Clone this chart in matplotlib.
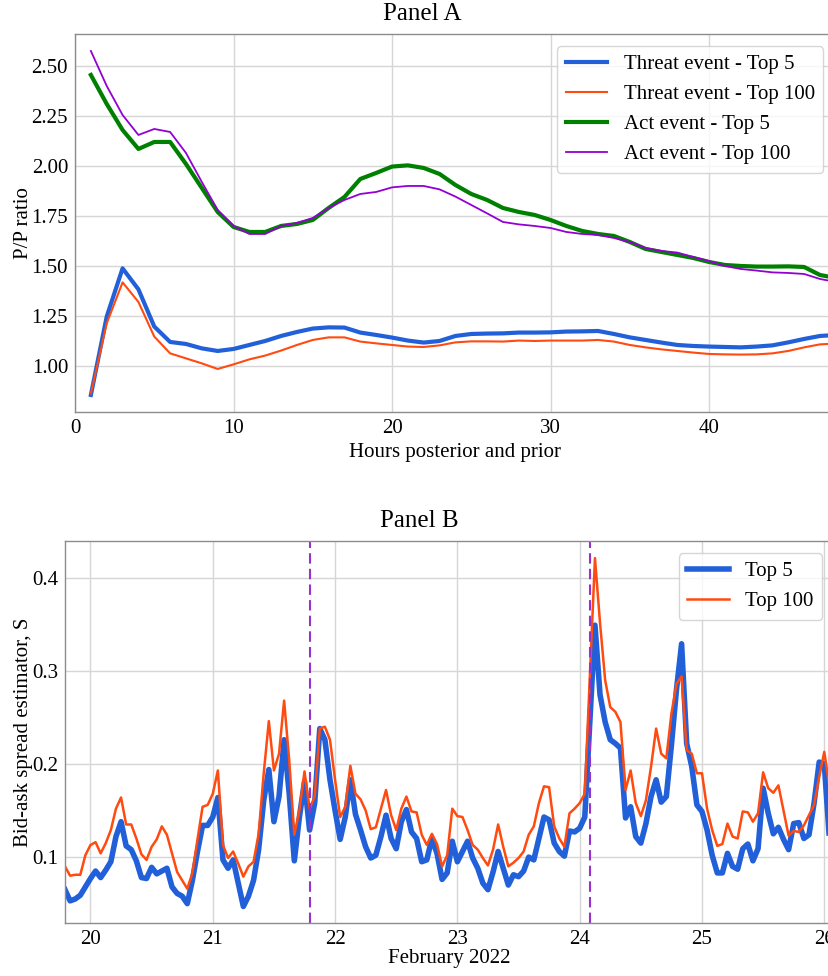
import numpy as np
import pandas as pd
import matplotlib
matplotlib.use('Agg')
import matplotlib.pyplot as plt
import matplotlib.dates as mdates

plt.rcParams['font.family'] = ['Liberation Serif', 'DejaVu Serif']
plt.rcParams['font.size'] = 15

# ---------------- Panel A data: P/P ratio by hour ----------------
hours = np.arange(1, 49)
threat_top5 = [0.855, 1.247, 1.488, 1.383, 1.197, 1.120, 1.110, 1.088, 1.075, 1.085,
               1.105, 1.125, 1.150, 1.170, 1.187, 1.193, 1.192, 1.167, 1.155, 1.142,
               1.127, 1.117, 1.125, 1.150, 1.160, 1.162, 1.163, 1.167, 1.167, 1.168,
               1.172, 1.173, 1.175, 1.160, 1.143, 1.130, 1.117, 1.105, 1.100, 1.097,
               1.095, 1.093, 1.097, 1.103, 1.118, 1.135, 1.150, 1.155]
threat_top100 = [0.862, 1.213, 1.418, 1.320, 1.147, 1.063, 1.038, 1.013, 0.985, 1.008,
                 1.033, 1.052, 1.077, 1.105, 1.130, 1.143, 1.143, 1.122, 1.113, 1.105,
                 1.097, 1.095, 1.103, 1.118, 1.123, 1.123, 1.122, 1.127, 1.125, 1.127,
                 1.127, 1.127, 1.130, 1.122, 1.105, 1.093, 1.083, 1.075, 1.067, 1.060,
                 1.058, 1.057, 1.058, 1.063, 1.075, 1.093, 1.108, 1.112]
act_top5 = [2.455, 2.310, 2.180, 2.085, 2.120, 2.120, 2.010, 1.890, 1.770, 1.695,
            1.670, 1.670, 1.700, 1.710, 1.730, 1.790, 1.845, 1.935, 1.965, 1.997,
            2.003, 1.990, 1.960, 1.905, 1.860, 1.830, 1.790, 1.770, 1.755, 1.730,
            1.700, 1.675, 1.660, 1.650, 1.620, 1.585, 1.570, 1.555, 1.540, 1.520,
            1.505, 1.500, 1.497, 1.497, 1.498, 1.495, 1.455, 1.440]
act_top100 = [2.575, 2.400, 2.255, 2.155, 2.185, 2.170, 2.065, 1.920, 1.780, 1.700,
              1.660, 1.660, 1.700, 1.715, 1.740, 1.790, 1.830, 1.860, 1.870, 1.893,
              1.900, 1.900, 1.883, 1.847, 1.805, 1.763, 1.720, 1.708, 1.700, 1.690,
              1.670, 1.660, 1.655, 1.640, 1.620, 1.590, 1.575, 1.567, 1.545, 1.525,
              1.500, 1.485, 1.477, 1.468, 1.465, 1.460, 1.435, 1.420]

# ---------------- Panel B data: hourly spread estimator ----------------
start_time = '2022-02-19 19:00'
spread_top5 = [
    0.065, 0.053, 0.055, 0.059, 0.068,                                   # 19 Feb 19h-23h
    0.077, 0.085, 0.078, 0.086, 0.095, 0.122, 0.138, 0.112, 0.108, 0.096, 0.078, 0.077,
    0.089, 0.082, 0.085, 0.088, 0.068, 0.061, 0.058, 0.050, 0.075, 0.106, 0.134, 0.134,  # 20 Feb
    0.143, 0.164, 0.097, 0.088, 0.097, 0.072, 0.047, 0.058, 0.075, 0.108, 0.161, 0.194,
    0.138, 0.165, 0.226, 0.168, 0.096, 0.143, 0.181, 0.129, 0.158, 0.238, 0.226, 0.183,  # 21 Feb
    0.150, 0.119, 0.143, 0.183, 0.146, 0.129, 0.111, 0.099, 0.102, 0.122, 0.145, 0.120,
    0.109, 0.138, 0.151, 0.127, 0.120, 0.095, 0.097, 0.120, 0.104, 0.076, 0.083, 0.117,  # 22 Feb
    0.095, 0.106, 0.117, 0.099, 0.088, 0.072, 0.065, 0.084, 0.106, 0.088, 0.070, 0.081,
    0.079, 0.085, 0.100, 0.097, 0.120, 0.143, 0.140, 0.115, 0.106, 0.101, 0.128, 0.127,  # 23 Feb
    0.131, 0.143, 0.246, 0.349, 0.274, 0.245, 0.226, 0.222, 0.217, 0.142, 0.154, 0.122,
    0.115, 0.136, 0.165, 0.183, 0.159, 0.165, 0.220, 0.280, 0.329, 0.222, 0.197, 0.156,  # 24 Feb
    0.149, 0.129, 0.102, 0.083, 0.083, 0.104, 0.090, 0.087, 0.109, 0.114, 0.096, 0.109,
    0.174, 0.147, 0.125, 0.132, 0.119, 0.108, 0.136, 0.137, 0.120, 0.124, 0.158, 0.202,  # 25 Feb
    0.200, 0.120,                                                        # 26 Feb
]
spread_top100 = [
    0.090, 0.080, 0.081, 0.081, 0.102,
    0.113, 0.116, 0.104, 0.115, 0.129, 0.152, 0.164, 0.135, 0.135, 0.120, 0.103, 0.097,
    0.111, 0.119, 0.133, 0.124, 0.104, 0.084, 0.075, 0.066, 0.083, 0.119, 0.154, 0.156,
    0.168, 0.193, 0.113, 0.099, 0.106, 0.093, 0.079, 0.090, 0.095, 0.125, 0.190, 0.246,
    0.193, 0.211, 0.268, 0.204, 0.124, 0.150, 0.192, 0.152, 0.165, 0.238, 0.240, 0.226,
    0.183, 0.143, 0.154, 0.198, 0.168, 0.162, 0.150, 0.130, 0.132, 0.152, 0.172, 0.145,
    0.129, 0.152, 0.165, 0.149, 0.148, 0.124, 0.113, 0.125, 0.114, 0.090, 0.102, 0.152,
    0.144, 0.143, 0.129, 0.113, 0.108, 0.099, 0.091, 0.108, 0.135, 0.111, 0.090, 0.094,
    0.099, 0.106, 0.124, 0.133, 0.158, 0.176, 0.175, 0.133, 0.120, 0.111, 0.147, 0.152,
    0.158, 0.168, 0.295, 0.421, 0.351, 0.290, 0.261, 0.256, 0.245, 0.172, 0.193, 0.158,
    0.144, 0.161, 0.197, 0.238, 0.211, 0.206, 0.254, 0.286, 0.294, 0.215, 0.211, 0.190,
    0.190, 0.152, 0.129, 0.112, 0.114, 0.136, 0.122, 0.120, 0.149, 0.148, 0.138, 0.147,
    0.191, 0.174, 0.169, 0.177, 0.150, 0.123, 0.128, 0.127, 0.134, 0.145, 0.156, 0.186,
    0.213, 0.176,
]
event_times = ['2022-02-21 19:00', '2022-02-24 02:00']

times = pd.date_range(start_time, periods=len(spread_top5), freq='h')

blue = '#2160d8'
red = '#ff4a10'
grid_col = '#d6d6d6'
spine_col = '#8c8c8c'

fig = plt.figure(figsize=(8.29, 9.76), dpi=100)
axA = fig.add_axes([0.0905, 0.5779, 0.9177, 0.3873])
axB = fig.add_axes([0.0784, 0.0540, 0.9282, 0.3917])

#Panel A:
axA.plot(hours, threat_top5, color=blue, lw=3, label='Threat event - Top 5')
axA.plot(hours, threat_top100, color=red, lw=1.5, label='Threat event - Top 100')
axA.plot(hours, act_top5, color='green', lw=3, label='Act event - Top 5')
axA.plot(hours, act_top100, color='darkviolet', lw=1.3, label='Act event - Top 100')
axA.set_xlim(0, 48)
axA.set_ylim(0.77, 2.66)
axA.set_xticks([0, 10, 20, 30, 40])
axA.set_yticks(np.arange(1.0, 2.51, 0.25))
axA.yaxis.set_major_formatter(plt.FormatStrFormatter('%.2f'))
axA.set_xlabel('Hours posterior and prior', labelpad=4)
axA.set_ylabel('P/P ratio', labelpad=-1)
axA.set_title('Panel A', x=0.457, pad=10)
axA.legend(loc='upper right', labelspacing=0.5, borderaxespad=0.6)

#Panel B:
axB.plot(times, spread_top5, color=blue, lw=4, label='Top 5')
axB.plot(times, spread_top100, color=red, lw=1.8, label='Top 100')
for t in event_times:
    axB.axvline(pd.Timestamp(t), color='darkorchid', lw=1.5, ls='--', dashes=(5, 2.5))
axB.set_xlim(pd.Timestamp(start_time), pd.Timestamp('2022-02-26 02:00'))
axB.set_ylim(0.0289, 0.4394)
axB.set_yticks([0.1, 0.2, 0.3, 0.4])
axB.xaxis.set_major_locator(mdates.DayLocator())
axB.xaxis.set_major_formatter(mdates.DateFormatter('%d'))
axB.set_xlabel('February 2022', labelpad=0)
axB.set_ylabel('Bid-ask spread estimator, S', labelpad=-1)
axB.set_title('Panel B', x=0.46, pad=10)
axB.legend(loc='upper right', labelspacing=0.5, borderaxespad=0.6)

#Appearance:
for ax in [axA, axB]:
    ax.grid(True, color=grid_col, lw=1)
    ax.set_axisbelow(True)
    ax.tick_params(length=0, pad=5, labelsize=15)
    for s in ax.spines.values():
        s.set_color(spine_col)
        s.set_linewidth(1)

fig.savefig('out.png', dpi=100)
